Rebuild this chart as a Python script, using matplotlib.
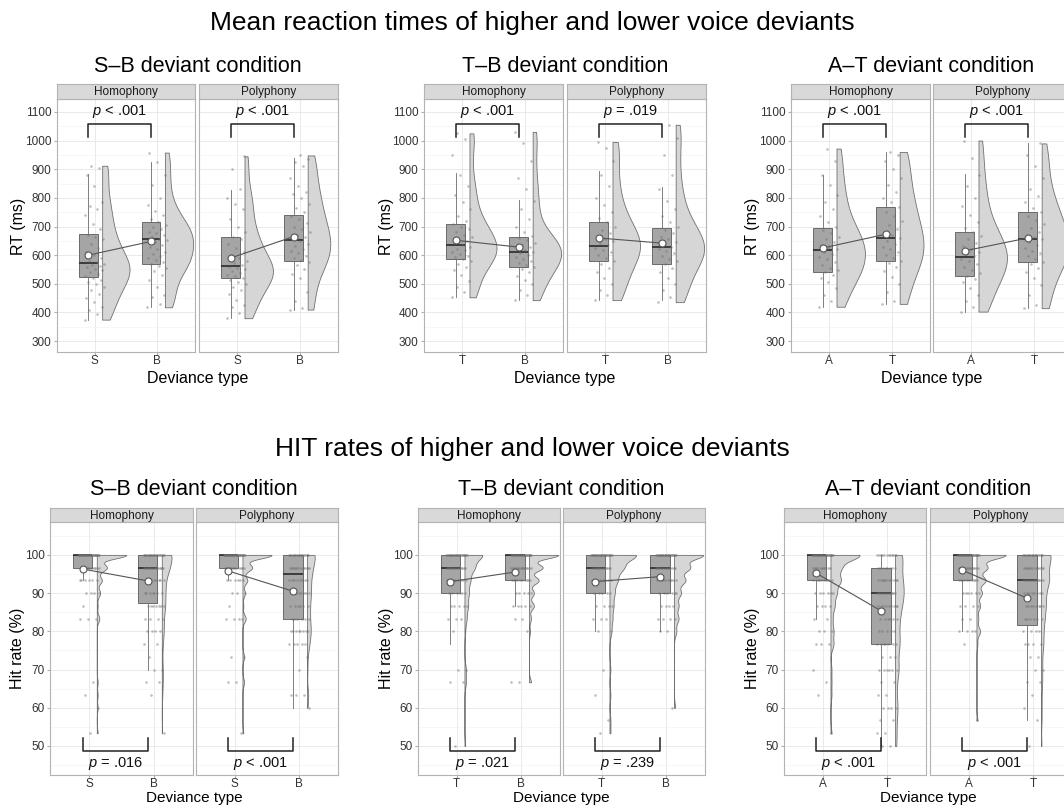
import numpy as np
import matplotlib.pyplot as plt

plt.rcParams['font.family'] = ['Liberation Sans', 'DejaVu Sans']
plt.rcParams['mathtext.fontset'] = 'custom'
plt.rcParams['mathtext.it'] = 'Liberation Sans:italic'
plt.rcParams['mathtext.rm'] = 'Liberation Sans'

W, H = 1064, 805

conditions = ['S–B deviant condition', 'T–B deviant condition', 'A–T deviant condition']
textures = ['Homophony', 'Polyphony']
dev_labels = [['S', 'B'], ['T', 'B'], ['A', 'T']]

# ---- reaction times (ms), one list per condition / texture / deviance type
rt_sb_hom_s = [375, 395, 410, 420, 435, 450, 465, 480, 490, 500, 505, 515, 520, 528, 535, 540, 548, 553,
               558, 562, 566, 570, 575, 580, 590, 600, 612, 625, 640, 655, 665, 672, 690, 710, 740, 760,
               772, 785, 840, 880, 905, 912]
rt_sb_hom_b = [418, 430, 455, 462, 490, 515, 530, 545, 555, 562, 568, 575, 582, 590, 598, 605, 612, 620,
               628, 636, 645, 652, 658, 664, 670, 676, 682, 690, 698, 706, 714, 725, 740, 755, 775, 800,
               845, 880, 925, 958]
rt_sb_pol_s = [380, 398, 420, 425, 445, 465, 478, 490, 500, 508, 515, 520, 526, 532, 538, 544, 550, 555,
               560, 565, 572, 580, 590, 600, 612, 625, 640, 655, 665, 680, 700, 725, 760, 778, 800, 830,
               900, 945]
rt_sb_pol_b = [410, 415, 440, 470, 520, 535, 550, 565, 575, 582, 590, 598, 606, 615, 623, 632, 640, 648,
               655, 662, 670, 680, 690, 700, 712, 725, 738, 750, 765, 780, 800, 815, 820, 840, 870, 910,
               925, 935, 948]
rt_tb_hom_t = [453, 470, 490, 510, 530, 548, 560, 570, 578, 586, 592, 598, 605, 611, 617, 623, 629, 635,
               641, 648, 655, 662, 670, 680, 690, 700, 708, 720, 735, 760, 785, 810, 840, 880, 950, 1005,
               1025]
rt_tb_hom_b = [443, 460, 480, 500, 515, 528, 540, 550, 558, 565, 572, 580, 587, 594, 600, 606, 612, 618,
               624, 630, 637, 644, 652, 660, 668, 680, 700, 725, 760, 790, 830, 870, 930, 990, 1030]
rt_tb_pol_t = [443, 462, 480, 500, 520, 540, 556, 568, 580, 590, 600, 610, 618, 626, 634, 642, 650, 658,
               666, 676, 688, 700, 715, 730, 750, 775, 800, 840, 880, 930, 975, 995]
rt_tb_pol_b = [436, 455, 478, 500, 520, 540, 555, 568, 578, 588, 597, 606, 614, 622, 630, 638, 646, 655,
               665, 676, 688, 700, 715, 735, 760, 790, 830, 880, 950, 1010, 1055]
rt_at_hom_a = [420, 440, 462, 485, 505, 520, 532, 540, 548, 556, 565, 575, 585, 595, 605, 612, 620, 628,
               636, 645, 655, 665, 676, 688, 700, 715, 735, 760, 785, 810, 845, 880, 930, 972]
rt_at_hom_t = [430, 440, 470, 500, 525, 545, 560, 572, 580, 590, 600, 610, 620, 630, 640, 650, 660, 670,
               680, 692, 705, 720, 735, 752, 768, 785, 800, 820, 845, 870, 900, 930, 950, 960]
rt_at_pol_a = [403, 420, 440, 462, 485, 505, 518, 528, 538, 548, 558, 568, 578, 588, 596, 604, 612, 622,
               632, 644, 656, 668, 680, 695, 715, 740, 770, 800, 840, 880, 940, 1000]
rt_at_pol_t = [415, 425, 460, 495, 520, 540, 556, 568, 576, 586, 596, 606, 616, 626, 636, 646, 656, 664,
               672, 682, 694, 708, 722, 736, 750, 765, 785, 805, 830, 870, 910, 950, 990]

# box stats [whisker low, q1, median, q3, whisker high]
rt_box_sb_hom = [[375, 523, 572, 673, 883], [418, 568, 655, 715, 925]]
rt_box_sb_pol = [[380, 520, 563, 665, 828], [410, 580, 652, 740, 940]]
rt_box_tb_hom = [[453, 586, 635, 708, 887], [443, 558, 610, 663, 792]]
rt_box_tb_pol = [[443, 580, 632, 715, 893], [443, 568, 628, 694, 838]]
rt_box_at_hom = [[418, 540, 617, 694, 880], [430, 578, 660, 768, 960]]
rt_box_at_pol = [[400, 527, 593, 680, 883], [415, 575, 658, 750, 990]]
rt_mean_sb = [[600, 648], [590, 665]]
rt_mean_tb = [[652, 628], [660, 642]]
rt_mean_at = [[625, 673], [615, 660]]
rt_p = [['$p$ < .001', '$p$ < .001'], ['$p$ < .001', '$p$ = .019'], ['$p$ < .001', '$p$ < .001']]

# ---- hit rates (%): counts of participants at each possible level
hit_levels = [100, 96.67, 93.33, 90, 86.67, 83.33, 80, 76.67, 73.33, 70, 66.67, 63.33, 60, 56.67, 53.33, 50]
hit_sb_hom_s = [35, 12, 6, 4, 1, 3, 0, 0, 0, 0, 1, 1, 1, 0, 1, 0]
hit_sb_hom_b = [22, 16, 8, 7, 7, 4, 4, 2, 1, 2, 2, 1, 0, 0, 1, 0]
hit_sb_pol_s = [36, 12, 6, 3, 1, 4, 0, 0, 2, 0, 2, 0, 0, 0, 1, 0]
hit_sb_pol_b = [18, 12, 8, 8, 6, 6, 8, 5, 1, 1, 0, 3, 1, 0, 0, 0]
hit_tb_hom_t = [26, 14, 8, 6, 5, 3, 1, 0, 0, 2, 2, 0, 0, 0, 0, 1]
hit_tb_hom_b = [30, 14, 10, 5, 5, 2, 1, 0, 0, 0, 2, 0, 0, 0, 0, 0]
hit_tb_pol_t = [28, 14, 8, 5, 4, 3, 2, 0, 0, 1, 0, 1, 0, 1, 1, 0]
hit_tb_pol_b = [26, 14, 10, 6, 4, 4, 2, 0, 0, 0, 0, 0, 1, 0, 0, 0]
hit_at_hom_a = [30, 10, 10, 6, 4, 2, 3, 3, 0, 1, 1, 1, 0, 0, 1, 0]
hit_at_hom_t = [12, 8, 10, 12, 9, 6, 5, 7, 3, 6, 2, 2, 4, 2, 2, 2]
hit_at_pol_a = [32, 12, 10, 6, 4, 2, 4, 1, 0, 0, 0, 0, 0, 1, 0, 0]
hit_at_pol_t = [18, 12, 14, 8, 8, 6, 4, 4, 2, 2, 2, 1, 1, 1, 0, 1]

hit_box_sb_hom = [[93.33, 96.67, 100, 100, 100], [70, 87.5, 96.67, 100, 100]]
hit_box_sb_pol = [[93.33, 96.67, 100, 100, 100], [60, 83.33, 95, 100, 100]]
hit_box_tb_hom = [[76.67, 90, 96.67, 100, 100], [86.67, 93.33, 100, 100, 100]]
hit_box_tb_pol = [[80, 90, 96.67, 100, 100], [80, 90, 96.67, 100, 100]]
hit_box_at_hom = [[83.33, 93.33, 100, 100, 100], [50, 76.67, 90, 96.67, 100]]
hit_box_at_pol = [[80, 93.33, 100, 100, 100], [56.67, 81.67, 93.33, 100, 100]]
hit_mean_sb = [[96.3, 93.2], [95.8, 90.5]]
hit_mean_tb = [[93.0, 95.5], [93.0, 94.3]]
hit_mean_at = [[95.2, 85.4], [96.0, 88.7]]
hit_p = [['$p$ = .016', '$p$ < .001'], ['$p$ = .021', '$p$ = .239'], ['$p$ < .001', '$p$ < .001']]


def hits(counts):
    return np.repeat(hit_levels, counts)


rt_data = [[[rt_sb_hom_s, rt_sb_hom_b], [rt_sb_pol_s, rt_sb_pol_b]],
           [[rt_tb_hom_t, rt_tb_hom_b], [rt_tb_pol_t, rt_tb_pol_b]],
           [[rt_at_hom_a, rt_at_hom_t], [rt_at_pol_a, rt_at_pol_t]]]
rt_boxes = [[rt_box_sb_hom, rt_box_sb_pol], [rt_box_tb_hom, rt_box_tb_pol], [rt_box_at_hom, rt_box_at_pol]]
rt_means = [rt_mean_sb, rt_mean_tb, rt_mean_at]

hit_data = [[[hits(hit_sb_hom_s), hits(hit_sb_hom_b)], [hits(hit_sb_pol_s), hits(hit_sb_pol_b)]],
            [[hits(hit_tb_hom_t), hits(hit_tb_hom_b)], [hits(hit_tb_pol_t), hits(hit_tb_pol_b)]],
            [[hits(hit_at_hom_a), hits(hit_at_hom_t)], [hits(hit_at_pol_a), hits(hit_at_pol_t)]]]
hit_boxes = [[hit_box_sb_hom, hit_box_sb_pol], [hit_box_tb_hom, hit_box_tb_pol], [hit_box_at_hom, hit_box_at_pol]]
hit_means = [hit_mean_sb, hit_mean_tb, hit_mean_at]


def kde(vals, grid, adjust=1.0):
    # gaussian density, Silverman bandwidth (like R's nrd0)
    v = np.asarray(vals, float)
    n = len(v)
    q75, q25 = np.percentile(v, [75, 25])
    sd = v.std(ddof=1)
    s = min(sd, (q75 - q25) / 1.34) if q75 > q25 else sd
    bw = 0.9 * s * n ** -0.2 * adjust
    d = np.exp(-0.5 * ((grid[:, None] - v[None, :]) / bw) ** 2).sum(axis=1)
    return d / (n * bw * np.sqrt(2 * np.pi))


def rect(x0, y0, x1, y1):
    return [x0 / W, 1 - y1 / H, (x1 - x0) / W, (y1 - y0) / H]


def panel(ax, pair, boxes, means, labels, ptxt, ylim, major, minor, br, first, adjust):
    ax.set_xlim(0.4, 2.6)
    ax.set_ylim(*ylim)
    grids, dens = [], []
    for i in range(2):
        v = np.asarray(pair[i], float)
        g = np.linspace(v.min(), v.max(), 600)
        grids.append(g)
        dens.append(kde(v, g, adjust))
    dmax = max(d.max() for d in dens)
    for i in range(2):
        x = i + 1
        v = np.asarray(pair[i], float)
        d = dens[i] / dmax * 0.45
        ax.fill_betweenx(grids[i], x + 0.12, x + 0.12 + d, facecolor='#d6d6d6',
                         edgecolor='#707070', lw=0.6, zorder=2)
        b = boxes[i]
        ax.bxp([dict(whislo=b[0], q1=b[1], med=b[2], q3=b[3], whishi=b[4], fliers=[])],
               positions=[x - 0.1], widths=0.3, patch_artist=True, showcaps=False,
               boxprops=dict(facecolor='#a5a5a5', edgecolor='#5a5a5a', lw=0.6),
               whiskerprops=dict(color='#6a6a6a', lw=0.6),
               medianprops=dict(color='#2a2a2a', lw=1.2), zorder=3)
        offs = ((np.arange(len(v)) * 0.6180339887) % 1.0 - 0.5) * 0.32
        ax.scatter(x + offs, v, s=3.5, color='#6f6f6f', alpha=0.45, lw=0, zorder=4)
    ax.plot([0.9, 1.9], means, color='#555555', lw=0.8, zorder=5)
    ax.plot([0.9, 1.9], means, 'o', ms=5, mfc='white', mec='#555555', mew=0.8, zorder=6)
    # significance bracket
    y_leg, y_bar, y_txt = br
    ax.plot([0.9, 0.9, 1.9, 1.9], [y_leg, y_bar, y_bar, y_leg], color='#222222', lw=1.1, zorder=6)
    ax.text(1.4, y_txt, ptxt, ha='center', va='center', fontsize=10.5, color='#111111')
    ax.set_xticks([1, 2])
    ax.set_xticklabels(labels)
    ax.set_yticks(major)
    ax.set_yticks(minor, minor=True)
    ax.set_axisbelow(True)
    ax.grid(which='major', color='#e6e6e6', lw=0.6)
    ax.grid(which='minor', axis='y', color='#f2f2f2', lw=0.4)
    ax.tick_params(which='minor', length=0)
    ax.tick_params(length=2.5, color='#b0b0b0', labelsize=8.5, labelcolor='#333333', pad=1.5)
    ax.tick_params(axis='x', length=2, pad=0.5)
    if not first:
        ax.tick_params(axis='y', left=False, labelleft=False)
    for s in ax.spines.values():
        s.set_color('#b3b3b3')
        s.set_lw(0.8)


def strip(fig, x0, y0, x1, y1, label):
    sa = fig.add_axes(rect(x0, y0, x1, y1))
    sa.set_facecolor('#d9d9d9')
    sa.set_xticks([])
    sa.set_yticks([])
    for s in sa.spines.values():
        s.set_color('#b3b3b3')
        s.set_lw(0.8)
    sa.text(0.5, 0.45, label, ha='center', va='center', fontsize=8.5, color='#1a1a1a',
            transform=sa.transAxes)


fig = plt.figure(figsize=(W / 100, H / 100), dpi=100)

top_x = [[(57, 195), (199, 338)], [(424, 563), (567, 706)], [(791, 930), (933, 1072)]]
bot_x = [[(50, 193), (196, 338)], [(418, 560), (563, 705)], [(784, 926), (930, 1072)]]
ylab_x = [18, 386, 752]

fig.text(532 / W, 1 - 23 / H, 'Mean reaction times of higher and lower voice deviants',
         ha='center', va='center', fontsize=19)
fig.text(532 / W, 1 - 449 / H, 'HIT rates of higher and lower voice deviants',
         ha='center', va='center', fontsize=19)

for g in range(3):
    # reaction time row
    for t in range(2):
        x0, x1 = top_x[g][t]
        ax = fig.add_axes(rect(x0, 99, x1, 352))
        panel(ax, rt_data[g][t], rt_boxes[g][t], rt_means[g][t], dev_labels[g], rt_p[g][t],
              (262, 1145), np.arange(300, 1101, 100), np.arange(350, 1100, 100),
              (1012, 1058, 1100), t == 0, 1.0)
        strip(fig, x0, 84, x1, 99, textures[t])
    cx = (top_x[g][0][0] + top_x[g][1][1]) / 2
    fig.text(cx / W, 1 - 66 / H, conditions[g], ha='center', va='center', fontsize=15.5)
    fig.text(cx / W, 1 - 378 / H, 'Deviance type', ha='center', va='center', fontsize=11.5)
    fig.text(ylab_x[g] / W, 1 - 226 / H, 'RT (ms)', ha='center', va='center', rotation=90,
             fontsize=11.5)

    # hit rate row
    for t in range(2):
        x0, x1 = bot_x[g][t]
        ax = fig.add_axes(rect(x0, 522, x1, 775))
        panel(ax, hit_data[g][t], hit_boxes[g][t], hit_means[g][t], dev_labels[g], hit_p[g][t],
              (42.4, 108.6), np.arange(50, 101, 10), np.arange(45, 106, 10),
              (52, 48.7, 45.4), t == 0, 0.5)
        strip(fig, x0, 508, x1, 522, textures[t])
    cx = (bot_x[g][0][0] + bot_x[g][1][1]) / 2
    fig.text(cx / W, 1 - 489 / H, conditions[g], ha='center', va='center', fontsize=15.5)
    fig.text(cx / W, 1 - 798 / H, 'Deviance type', ha='center', va='center', fontsize=11)
    fig.text(ylab_x[g] / W, 1 - 648 / H, 'Hit rate (%)', ha='center', va='center', rotation=90,
             fontsize=11.5)

fig.savefig('out.png', dpi=100)
